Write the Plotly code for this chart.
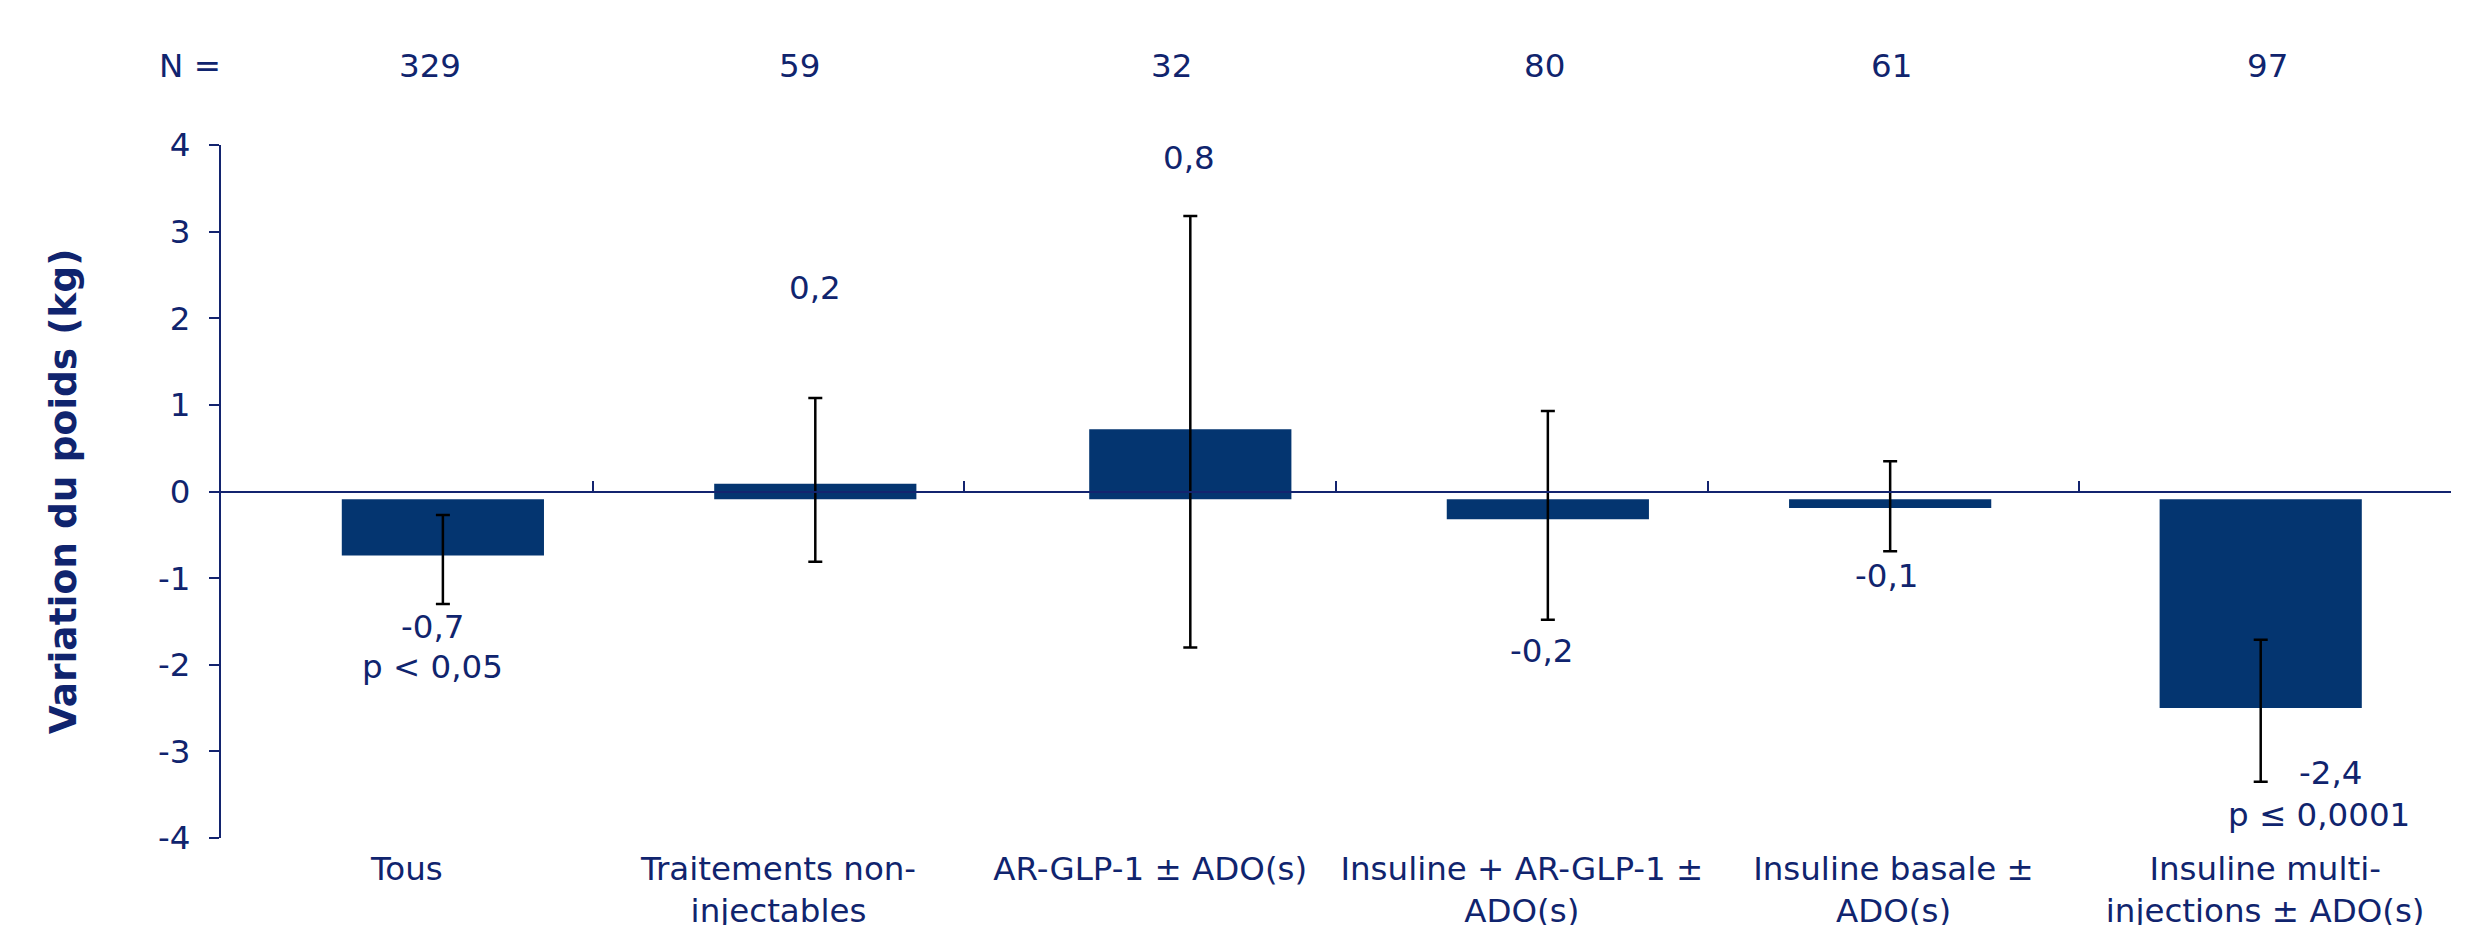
import plotly.graph_objects as go

# ---- data ----
categories = [
    "Tous",
    "Traitements non-<br>injectables",
    "AR-GLP-1 ± ADO(s)",
    "Insuline + AR-GLP-1 ±<br>ADO(s)",
    "Insuline basale ±<br>ADO(s)",
    "Insuline multi-<br>injections ± ADO(s)",
]
values = [-0.65, 0.18, 0.81, -0.23, -0.10, -2.41]          # change in weight (kg)
err_plus = [0.47, 0.99, 2.46, 1.25, 0.54, 0.79]
err_minus = [0.56, 0.90, 2.52, 1.16, 0.50, 0.85]
n_counts = ["329", "59", "32", "80", "61", "97"]
value_labels = ["-0,7", "0,2", "0,8", "-0,2", "-0,1", "-2,4"]
p_labels = {0: "p < 0,05", 5: "p ≤ 0,0001"}
y_ticks = [-4, -3, -2, -1, 0, 1, 2, 3, 4]

# ---- styling / placement (not data) ----
NAVY_TXT = "#10246e"
NAVY_BAR = "#043570"
NAVY_AX = "#13246f"
FONT = "DejaVu Sans"
FS = 32.5
bar_width = 0.544
bar_shift = [0.097, 0.099, 0.108, 0.070, -0.009, -0.012]  # bar centre offset in category units
bar_base = -0.09
n_dx = [0.062, 0.057, 0.058, 0.061, -0.006, 0.006]
val_pos = [(0.068, -1.56), (1.098, 2.35), (2.104, 3.85), (3.053, -1.84), (3.981, -0.98), (5.175, -3.25)]
p_pos = {0: (0.068, -2.03), 5: (5.146, -3.74)}

fig = go.Figure()
fig.add_trace(go.Bar(
    x=categories, y=values, base=bar_base,
    width=bar_width,
    offset=[s - bar_width / 2 for s in bar_shift],
    marker=dict(color=NAVY_BAR, line=dict(width=0)),
    error_y=dict(type="data", symmetric=False, array=err_plus, arrayminus=err_minus,
                 color="black", thickness=2.5, width=7),
    hoverinfo="skip", showlegend=False,
))
# invisible helper trace for the axis drawn along y = 0
fig.add_trace(go.Scatter(x=categories, y=values, xaxis="x2", mode="markers",
                         marker=dict(opacity=0), hoverinfo="skip", showlegend=False))

txt_font = dict(family=FONT, size=FS, color=NAVY_TXT)
ann = []
ann.append(dict(x=-0.014, y=1.1145, xref="paper", yref="paper", text="N =", showarrow=False,
                font=txt_font, xanchor="center", yanchor="middle"))
for i, n in enumerate(n_counts):
    ann.append(dict(x=i + n_dx[i], y=1.1145, xref="x", yref="paper", text=n, showarrow=False,
                    font=txt_font, xanchor="center", yanchor="middle"))
for i, t in enumerate(value_labels):
    x, y = val_pos[i]
    ann.append(dict(x=x, y=y, xref="x", yref="y", text=t, showarrow=False,
                    font=txt_font, xanchor="center", yanchor="middle"))
for i, t in p_labels.items():
    x, y = p_pos[i]
    ann.append(dict(x=x, y=y, xref="x", yref="y", text=t, showarrow=False,
                    font=txt_font, xanchor="center", yanchor="middle"))

# the page body adds an 8 px margin, so the figure is 8 px smaller and margins compensate
fig.update_layout(
    width=2472, height=917,
    margin=dict(l=213, r=29, t=137, b=87, pad=0, autoexpand=False),
    paper_bgcolor="white", plot_bgcolor="white",
    font=txt_font,
    xaxis=dict(type="category", categoryorder="array", categoryarray=categories,
               range=[-0.5, 5.5], showline=False, showgrid=False, zeroline=False,
               ticks="", tickfont=txt_font, ticklabelstandoff=8, automargin=False),
    xaxis2=dict(type="category", categoryorder="array", categoryarray=categories,
                range=[-0.5, 5.5], overlaying="x", anchor="free", position=0.5,
                showline=True, linecolor=NAVY_AX, linewidth=2,
                ticks="inside", tickson="boundaries", ticklen=10, tickwidth=2, tickcolor=NAVY_AX,
                showticklabels=False, showgrid=False, zeroline=False, automargin=False),
    yaxis=dict(range=[-4, 4], tickvals=y_ticks, ticktext=[str(v) for v in y_ticks],
               showline=True, linecolor=NAVY_AX, linewidth=2,
               ticks="outside", ticklen=10, tickwidth=2, tickcolor=NAVY_AX,
               showgrid=False, zeroline=False, ticklabelstandoff=12, automargin=False,
               tickfont=txt_font,
               title=dict(text="<b>Variation du poids (kg)</b>", standoff=70,
                          font=dict(family=FONT, size=37.5, color=NAVY_TXT))),
    annotations=ann,
)

fig.write_html("out.html")
